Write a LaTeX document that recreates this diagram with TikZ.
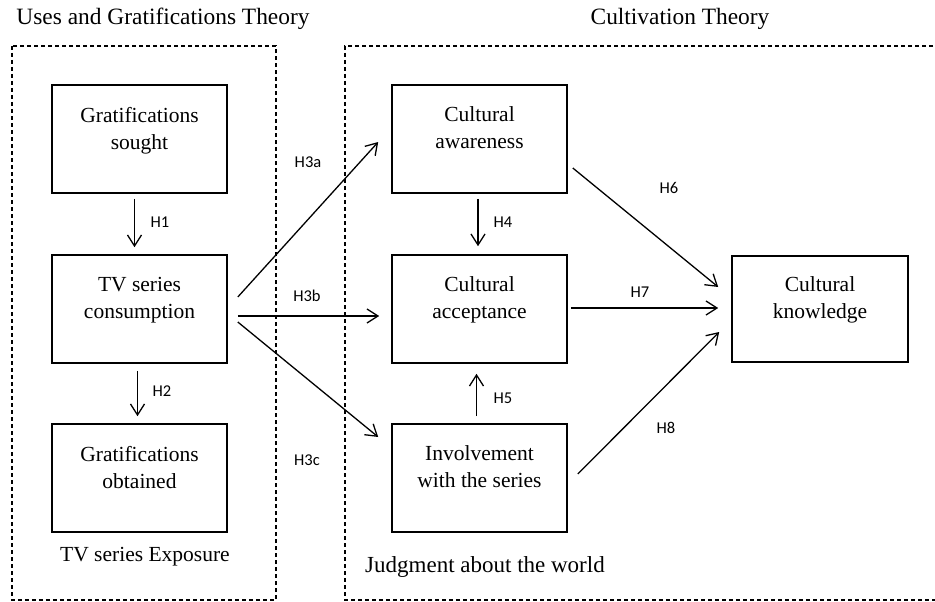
\documentclass[tikz,border=0pt]{standalone}
\usepackage{fontspec}
\setmainfont{Liberation Serif}
\newfontfamily\hypFont{Carlito}
\usepackage{tikz}
\usetikzlibrary{arrows.meta}
\newcommand{\boxWidth}[0]{175pt}
\newcommand{\boxHeight}[0]{108pt}
\newcommand{\boxSize}[0]{\fontsize{21.5}{27}\selectfont}
\newcommand{\titleSize}[0]{\fontsize{23.4}{28}\selectfont}
\newcommand{\hypSize}[0]{\hypFont\fontsize{16.5}{20}\selectfont}

\begin{document}
\begin{tikzpicture}[x=1pt, y=-1pt]
  \tikzset{
    every node/.style={inner sep=0pt},
    construct/.style={draw, line width=1.6pt, minimum width=\boxWidth,
      minimum height=\boxHeight, align=center, font=\boxSize, text depth=22pt},
    hyp/.style={font=\hypSize},
    hypPath/.style={line width=1.3pt,
      -{Straight Barb[length=11pt,width=14pt,line width=1.3pt]}},
    theoryFrame/.style={line width=1.3pt, dash pattern=on 4pt off 3pt},
  }
  \useasboundingbox (0,0) rectangle (935,602);
  \node[font=\titleSize] (UGT) at (163,19) {Uses and Gratifications Theory};
  \node[font=\titleSize] (CT) at (680,19) {Cultivation Theory};
  \draw[theoryFrame] (12,46) rectangle (276,600);
  \draw[theoryFrame] (940,46) -- (345,46) -- (345,600) -- (940,600);

  \node[construct] (GS) at (139.5,139) {Gratifications\\sought};
  \node[construct] (TVC) at (139.5,309) {TV series\\consumption};
  \node[construct] (GO) at (139.5,478) {Gratifications\\obtained};
  \node[construct] (CAw) at (479.5,139) {Cultural\\awareness};
  \node[construct] (CAc) at (479.5,309) {Cultural\\acceptance};
  \node[construct] (INV) at (479.5,478) {Involvement\\with the series};
  \node[construct, minimum width=176pt, minimum height=106pt] (CK) at (820,309) {Cultural\\knowledge};

  \node[font=\boxSize, anchor=west] (EXP) at (60,557) {TV series Exposure};
  \node[font=\fontsize{23}{28}\selectfont, anchor=west] (JDG) at (365,567) {Judgment about the world};

  \draw[hypPath] ([shift={(-5,5)}]GS.south) -- ([shift={(-5,-7)}]TVC.north);
  \draw[hypPath] ([shift={(-2,7)}]TVC.south) -- ([shift={(-2,-7)}]GO.north);
  \draw[hypPath] ([shift={(10,-12)}]TVC.east) -- ([shift={(-13,3)}]CAw.west);
  \draw[hypPath] ([shift={(10,7)}]TVC.east) -- ([shift={(-12,7)}]CAc.west);
  \draw[hypPath] ([shift={(10,13)}]TVC.east) -- ([shift={(-13,-41)}]INV.west);
  \draw[hypPath] ([shift={(-1.5,5)}]CAw.south) -- ([shift={(-1.5,-8)}]CAc.north);
  \draw[hypPath] ([shift={(-3,-7)}]INV.north) -- ([shift={(-3,10)}]CAc.south);
  \draw[hypPath] ([shift={(5,29)}]CAw.east) -- ([shift={(-13,-22)}]CK.west);
  \draw[hypPath] ([shift={(3,-1)}]CAc.east) -- ([shift={(-13,-1)}]CK.west);
  \draw[hypPath] ([shift={(10,-4)}]INV.east) -- ([shift={(-12,23)}]CK.west);

  \node[hyp] (H-1) at (160,222) {H1};
  \node[hyp] (H-2) at (162,391) {H2};
  \node[hyp] (H-3a) at (308,162) {H3a};
  \node[hyp] (H-3b) at (307,296) {H3b};
  \node[hyp] (H-3c) at (307,460) {H3c};
  \node[hyp] (H-4) at (503,222) {H4};
  \node[hyp] (H-5) at (503,398) {H5};
  \node[hyp] (H-6) at (669,188) {H6};
  \node[hyp] (H-7) at (640,292) {H7};
  \node[hyp] (H-8) at (666,428) {H8};
\end{tikzpicture}
\end{document}
